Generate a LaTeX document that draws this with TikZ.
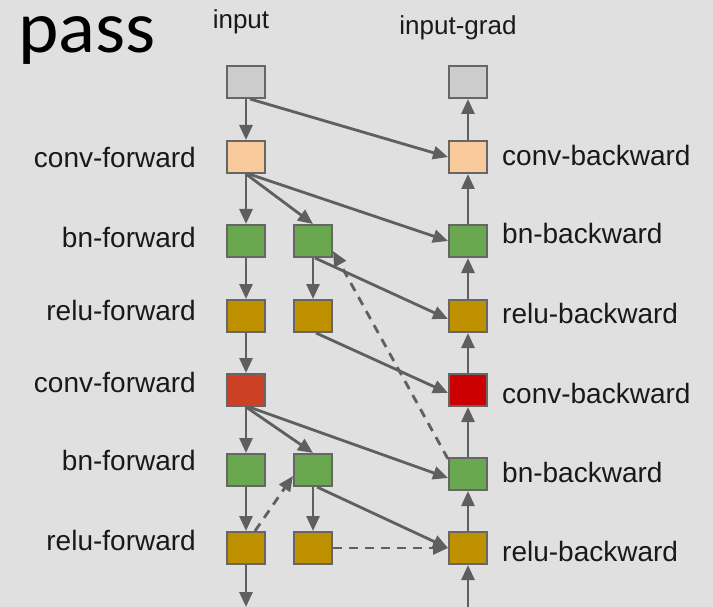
\documentclass[tikz,border=0pt]{standalone}
\usepackage{fontspec}
\setmainfont{Liberation Sans}
\newfontfamily\passfont{Carlito}
\usetikzlibrary{arrows.meta}
\definecolor{bggray}{HTML}{E0E0E0}
\definecolor{boxline}{HTML}{666666}
\definecolor{linkgray}{HTML}{5F5F5F}
\definecolor{inputgray}{HTML}{CCCCCC}
\definecolor{convpeach}{HTML}{F9CB9C}
\definecolor{bngreen}{HTML}{6AA84F}
\definecolor{relugold}{HTML}{BF9000}
\definecolor{convorange}{HTML}{CC4125}
\definecolor{convred}{HTML}{CC0000}
\tikzset{
  box/.style={draw=boxline, line width=2pt, minimum width=38pt, minimum height=32pt, inner sep=0pt},
  link/.style={draw=linkgray, line width=2.8pt, -{Triangle[length=15pt,width=13pt]}},
  dlink/.style={link, dash pattern=on 9pt off 7pt},
  lbl/.style={inner sep=0pt, text=black!90, font=\fontsize{28}{30}\selectfont}
}
\begin{document}
\begin{tikzpicture}[x=1pt,y=-1pt]
\fill[bggray] (0,0) rectangle (713,607);
\useasboundingbox (0,0) rectangle (713,607);

\node[inner sep=0pt, anchor=base west, font=\passfont\fontsize{74}{76}\selectfont, xscale=1.04] (pass) at (18,53) {pass};
\node[lbl, font=\fontsize{26}{28}\selectfont] (intxt) at (241,22) {input};
\node[lbl, font=\fontsize{26}{28}\selectfont] (igtxt) at (458,28) {input-grad};

% forward column
\node[box, fill=inputgray] (in) at (246,82) {};
\node[box, fill=convpeach] (cf1) at (246,157) {};
\node[box, fill=bngreen] (bnA1) at (246,241) {};
\node[box, fill=bngreen] (bnB1) at (313,241) {};
\node[box, fill=relugold] (reA1) at (246,316) {};
\node[box, fill=relugold] (reB1) at (313,316) {};
\node[box, fill=convorange] (cf2) at (246,390) {};
\node[box, fill=bngreen] (bnA2) at (246,470) {};
\node[box, fill=bngreen] (bnB2) at (313,470) {};
\node[box, fill=relugold] (reA2) at (246,548) {};
\node[box, fill=relugold] (reB2) at (313,548) {};

% backward column
\node[box, fill=inputgray] (ig) at (468,82) {};
\node[box, fill=convpeach] (cb1) at (468,157) {};
\node[box, fill=bngreen] (bb1) at (468,241) {};
\node[box, fill=relugold] (rb1) at (468,316) {};
\node[box, fill=convred] (cb2) at (468,390) {};
\node[box, fill=bngreen] (bb2) at (468,474) {};
\node[box, fill=relugold] (rb2) at (468,548) {};

\coordinate (fwdout) at (246,607);
\coordinate (bwdin) at (468,607);

% labels
\foreach \name/\y/\txt in {lf1/157/conv-forward, lf2/237/bn-forward, lf3/310/relu-forward,
                           lf4/382/conv-forward, lf5/460/bn-forward, lf6/540/relu-forward}
  \node[lbl, anchor=east] (\name) at (196,\y) {\txt};
\foreach \name/\y/\txt in {lb1/155/conv-backward, lb2/233/bn-backward, lb3/313/relu-backward,
                           lb4/393/conv-backward, lb5/472/bn-backward, lb6/551/relu-backward}
  \node[lbl, anchor=west] (\name) at (502,\y) {\txt};

% forward links
\foreach \a/\b in {in/cf1, cf1/bnA1, bnA1/reA1, reA1/cf2, cf2/bnA2, bnA2/reA2, bnB1/reB1, bnB2/reB2, cf1/bnB1, cf2/bnB2}
  \draw[link] (\a.south) -- (\b.north);
\draw[link] (reA2.south) -- (fwdout);

% backward links
\foreach \a/\b in {rb2/bb2, bb2/cb2, cb2/rb1, rb1/bb1, bb1/cb1, cb1/ig}
  \draw[link] (\a.north) -- (\b.south);
\draw[link] (bwdin) -- (rb2.south);

% cross links
\draw[link] ([xshift=4pt]in.south) -- (cb1.west);
\draw[link] ([xshift=3pt]cf1.south) -- (bb1.west);
\draw[link] ([xshift=2pt]bnB1.south) -- ([yshift=-3pt]rb1.west);
\draw[link] ([xshift=3pt]reB1.south) -- ([yshift=-3pt]cb2.west);
\draw[link] ([xshift=3pt]cf2.south) -- ([yshift=-4pt]bb2.west);
\draw[link] ([xshift=4pt]bnB2.south) -- (rb2.west);

% dashed links
\draw[dlink] ([yshift=-2pt]bb2.north west) -- ([yshift=-10pt]bnB1.east);
\draw[dlink] ([xshift=9pt]reA2.north) -- ([yshift=-6pt]bnB2.west);
\draw[dlink] (reB2.east) -- (rb2.west);
\end{tikzpicture}
\end{document}
